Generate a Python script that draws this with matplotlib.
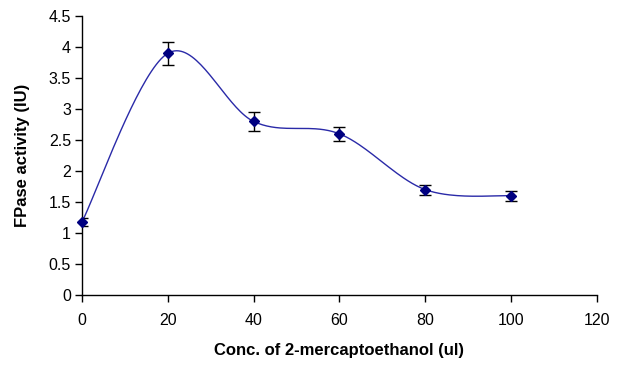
import numpy as np
import matplotlib
matplotlib.use("Agg")
import matplotlib.pyplot as plt

conc = [0, 20, 40, 60, 80, 100]
activity = [1.18, 3.9, 2.8, 2.6, 1.7, 1.6]
errors = [0.06, 0.19, 0.15, 0.11, 0.08, 0.08]
xticks = [0, 20, 40, 60, 80, 100, 120]
yticks = [0, 0.5, 1, 1.5, 2, 2.5, 3, 3.5, 4, 4.5]

plt.rcParams['font.family'] = ['Liberation Sans', 'DejaVu Sans']

fig = plt.figure(figsize=(6.28, 3.66), dpi=100)
ax = fig.add_axes([0.1306, 0.194, 0.82, 0.762])

# Excel-style smoothed curve (Catmull-Rom Bezier)
P = np.array(list(zip(conc, activity)), dtype=float)
n = len(P)
curve = []
t = np.linspace(0, 1, 40)
for i in range(n - 1):
    p0 = P[i - 1] if i > 0 else P[i]
    p1 = P[i]
    p2 = P[i + 1]
    p3 = P[i + 2] if i + 2 < n else P[i + 1]
    c1 = p1 + (p2 - p0) / 6.0
    c2 = p2 - (p3 - p1) / 6.0
    seg = ((1 - t) ** 3)[:, None] * p1 + (3 * (1 - t) ** 2 * t)[:, None] * c1 \
        + (3 * (1 - t) * t ** 2)[:, None] * c2 + (t ** 3)[:, None] * p2
    curve.append(seg)
curve = np.vstack(curve)
ax.plot(curve[:, 0], curve[:, 1], color='#2a2aa8', lw=1.0, zorder=2)

ax.errorbar(conc, activity, yerr=errors, fmt='none', ecolor='black',
            elinewidth=1.0, capsize=4.5, capthick=1.0, zorder=3)
ax.plot(conc, activity, linestyle='none', marker='D', markersize=5.5,
        color='#000080', zorder=4, clip_on=False)

ax.set_xlim(0, 120)
ax.set_ylim(0, 4.5)
ax.set_xticks(xticks)
ax.set_xticklabels([str(v) for v in xticks])
ax.set_yticks(yticks)
ax.set_yticklabels([('%g' % v) for v in yticks])

for s in ['top', 'right']:
    ax.spines[s].set_visible(False)
for s in ['left', 'bottom']:
    ax.spines[s].set_linewidth(1.0)
    ax.spines[s].set_color('black')
ax.tick_params(direction='out', length=5, width=1.0, labelsize=11.5, colors='black')
ax.tick_params(axis='x', pad=8)
ax.tick_params(axis='y', pad=3)

ax.set_xlabel('Conc. of 2-mercaptoethanol (ul)', fontsize=12, fontweight='bold', labelpad=11)
ax.set_ylabel('FPase activity (IU)', fontsize=12, fontweight='bold', labelpad=13)

fig.savefig('out.png', dpi=100)
